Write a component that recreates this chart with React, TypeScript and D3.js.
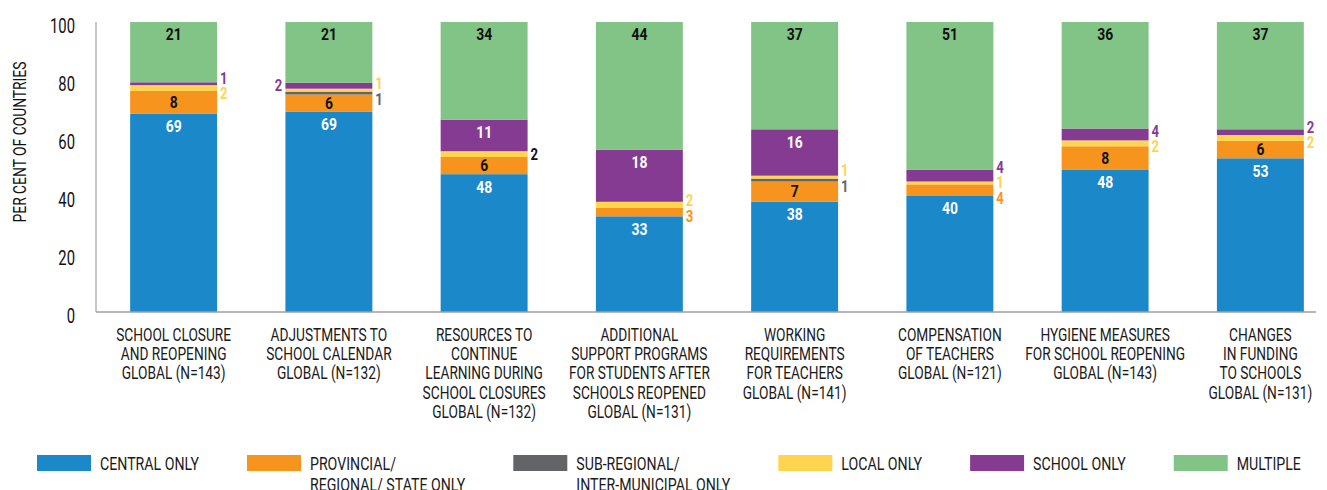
import React, { useEffect, useRef } from 'react';
import * as d3 from 'd3';

// ---------- DATA ----------
const categoryLines: string[][] = [
  ['SCHOOL CLOSURE', 'AND REOPENING', 'GLOBAL (N=143)'],
  ['ADJUSTMENTS TO', 'SCHOOL CALENDAR', 'GLOBAL (N=132)'],
  ['RESOURCES TO', 'CONTINUE', 'LEARNING DURING', 'SCHOOL CLOSURES', 'GLOBAL (N=132)'],
  ['ADDITIONAL', 'SUPPORT PROGRAMS', 'FOR STUDENTS AFTER', 'SCHOOLS REOPENED', 'GLOBAL (N=131)'],
  ['WORKING', 'REQUIREMENTS', 'FOR TEACHERS', 'GLOBAL (N=141)'],
  ['COMPENSATION', 'OF TEACHERS', 'GLOBAL (N=121)'],
  ['HYGIENE MEASURES', 'FOR SCHOOL REOPENING', 'GLOBAL (N=143)'],
  ['CHANGES', 'IN FUNDING', 'TO SCHOOLS', 'GLOBAL (N=131)'],
];
const centralOnly = [69, 69, 48, 33, 38, 40, 48, 53];
const provincialOnly = [8, 6, 6, 3, 7, 4, 8, 6];
const subRegionalOnly = [0, 1, 0, 0, 1, 0, 0, 0];
const localOnly = [2, 1, 2, 2, 1, 1, 2, 2];
const schoolOnly = [1, 2, 11, 18, 16, 4, 4, 2];
const multiple = [21, 21, 34, 44, 37, 51, 36, 37];
const yTicks = [0, 20, 40, 60, 80, 100];
const seriesKeys = ['central', 'provincial', 'subregional', 'local', 'school', 'multiple'];
const legendLabels: string[][] = [
  ['CENTRAL ONLY'],
  ['PROVINCIAL/', 'REGIONAL/ STATE ONLY'],
  ['SUB-REGIONAL/', 'INTER-MUNICIPAL ONLY'],
  ['LOCAL ONLY'],
  ['SCHOOL ONLY'],
  ['MULTIPLE'],
];
const yAxisTitle = 'PER CENT OF COUNTRIES';

// ---------- STYLE ----------
const COLORS: Record<string, string> = {
  central: '#1a88c9',
  provincial: '#f7941d',
  subregional: '#636466',
  local: '#ffd44f',
  school: '#863b93',
  multiple: '#82c386',
};
const INSIDE_TEXT: Record<string, string> = {
  central: '#ffffff',
  provincial: '#111111',
  subregional: '#ffffff',
  local: '#111111',
  school: '#ffffff',
  multiple: '#111111',
};
const FONT = "Roboto, 'Liberation Sans', sans-serif";

export default function App() {
  const ref = useRef<SVGSVGElement>(null);

  useEffect(() => {
    const svg = d3.select(ref.current);
    svg.selectAll('*').remove();

    // horizontal condensing calibrated to the reference's condensed typeface
    const calib = (sample: string, size: number, weight: string, target: number) => {
      const t = svg
        .append('text')
        .attr('font-family', FONT)
        .attr('font-size', size)
        .attr('font-weight', weight)
        .text(sample);
      const w = (t.node() as SVGTextElement).getComputedTextLength();
      t.remove();
      return w > 0 ? target / w : 1;
    };
    const SX_CAT = calib('SCHOOL CLOSURE', 17.5, 'normal', 115);
    const SX_LEG = calib('CENTRAL ONLY', 18, 'normal', 99);
    const SX_TICK = calib('100', 21, 'normal', 25);
    const SX_TITLE = calib(yAxisTitle, 17.5, 'normal', 161);
    const SX_VAL = calib('44', 17, 'bold', 16);

    const table = categoryLines.map((_, i) => ({
      idx: i,
      central: centralOnly[i],
      provincial: provincialOnly[i],
      subregional: subRegionalOnly[i],
      local: localOnly[i],
      school: schoolOnly[i],
      multiple: multiple[i],
    }));

    const stacked = d3.stack<any>().keys(seriesKeys).offset(d3.stackOffsetExpand)(table);

    const x = d3
      .scaleBand<number>()
      .domain(d3.range(categoryLines.length))
      .range([96, 1338])
      .paddingInner(0.44)
      .paddingOuter(0.22);
    const y = d3.scaleLinear().domain([0, 100]).range([312, 22]);
    const yf = (f: number) => y(f * 100);

    const addText = (
      g: any,
      tx: number,
      ty: number,
      str: string,
      opts: { size: number; sx: number; anchor?: string; weight?: string; fill?: string; rotate?: number }
    ) => {
      return g
        .append('text')
        .attr(
          'transform',
          `translate(${tx},${ty})${opts.rotate ? ` rotate(${opts.rotate})` : ''} scale(${opts.sx},1)`
        )
        .attr('text-anchor', opts.anchor || 'middle')
        .attr('dominant-baseline', 'central')
        .attr('font-family', FONT)
        .attr('font-size', opts.size)
        .attr('font-weight', opts.weight || 'normal')
        .attr('fill', opts.fill || '#1a1a1a')
        .text(str);
    };

    // y axis line
    svg
      .append('line')
      .attr('x1', 96)
      .attr('x2', 96)
      .attr('y1', y(100))
      .attr('y2', y(0))
      .attr('stroke', '#a0a0a0')
      .attr('stroke-width', 1.2);

    // y tick labels
    const gy = svg.append('g');
    yTicks.forEach((t) => {
      addText(gy, 75, y(t) + 3, String(t), { size: 21, sx: SX_TICK, anchor: 'end', fill: '#111' });
    });
    addText(gy, 20, 142, yAxisTitle, { size: 17.5, sx: SX_TITLE, rotate: -90, fill: '#111' });

    // bars
    const gb = svg.append('g');
    stacked.forEach((s) => {
      gb.selectAll(null)
        .data(s)
        .enter()
        .append('rect')
        .attr('x', (d: any) => x(d.data.idx)!)
        .attr('width', x.bandwidth())
        .attr('y', (d: any) => yf(d[1]))
        .attr('height', (d: any) => Math.max(0, yf(d[0]) - yf(d[1])))
        .attr('fill', COLORS[s.key]);
    });

    // baseline
    svg
      .append('line')
      .attr('x1', 96)
      .attr('x2', 1316)
      .attr('y1', y(0))
      .attr('y2', y(0))
      .attr('stroke', '#a0a0a0')
      .attr('stroke-width', 1.5);

    // value labels
    const gl = svg.append('g');
    const outside: Record<string, { y: number; text: string; color: string; x: number; side: string }[]> = {};
    stacked.forEach((s) => {
      const key = s.key;
      s.forEach((d: any) => {
        const i = d.data.idx;
        const v = d.data[key];
        if (!v) return;
        const top = yf(d[1]);
        const bot = yf(d[0]);
        const h = bot - top;
        const cx = x(i)! + x.bandwidth() / 2;
        if (v >= 5) {
          addText(gl, cx, top + Math.min(h / 2, 13), String(v), {
            size: 17,
            sx: SX_VAL,
            weight: 'bold',
            fill: INSIDE_TEXT[key],
          });
        } else {
          const side = i === 1 && key === 'school' ? 'left' : 'right';
          const color = i === 2 && key === 'local' ? '#111111' : COLORS[key];
          const gk = `${i}-${side}`;
          const lx = side === 'right' ? x(i)! + x.bandwidth() + 3 : x(i)! - 3;
          (outside[gk] = outside[gk] || []).push({ y: (top + bot) / 2, text: String(v), color, x: lx, side });
        }
      });
    });
    const GAP = 15.5;
    Object.values(outside).forEach((arr) => {
      arr.sort((a, b) => a.y - b.y);
      let overlap = false;
      for (let k = 1; k < arr.length; k++) if (arr[k].y - arr[k - 1].y < GAP) overlap = true;
      if (overlap) {
        const mean = d3.mean(arr, (a) => a.y)!;
        const start = mean - ((arr.length - 1) * GAP) / 2;
        arr.forEach((a, k) => (a.y = start + k * GAP));
      }
      arr.forEach((a) => {
        addText(gl, a.x, a.y, a.text, {
          size: 16,
          sx: SX_VAL,
          weight: 'bold',
          fill: a.color,
          anchor: a.side === 'right' ? 'start' : 'end',
        });
      });
    });

    // category labels
    const gc = svg.append('g');
    categoryLines.forEach((lines, i) => {
      const cx = x(i)! + x.bandwidth() / 2;
      lines.forEach((ln, k) => {
        addText(gc, cx, 334.5 + k * 19.3, ln, { size: 17.5, sx: SX_CAT, fill: '#1a1a1a' });
      });
    });

    // legend (flow layout)
    const gLeg = svg.append('g');
    let lx = 37;
    const SW = 54;
    const SH = 16;
    legendLabels.forEach((lines, k) => {
      gLeg
        .append('rect')
        .attr('x', lx)
        .attr('y', 455)
        .attr('width', SW)
        .attr('height', SH)
        .attr('fill', COLORS[seriesKeys[k]]);
      let maxW = 0;
      lines.forEach((ln, j) => {
        const t = addText(gLeg, lx + SW + 9, 464 + j * 21, ln, {
          size: 18,
          sx: SX_LEG,
          anchor: 'start',
          fill: '#1a1a1a',
        });
        const w = (t.node() as SVGTextElement).getComputedTextLength() * SX_LEG;
        maxW = Math.max(maxW, w);
      });
      lx += SW + 9 + maxW + 48;
    });
  }, []);

  return (
    <svg
      ref={ref}
      width={1327}
      height={490}
      style={{ position: 'absolute', left: 0, top: 0, display: 'block', background: '#fff' }}
    />
  );
}
